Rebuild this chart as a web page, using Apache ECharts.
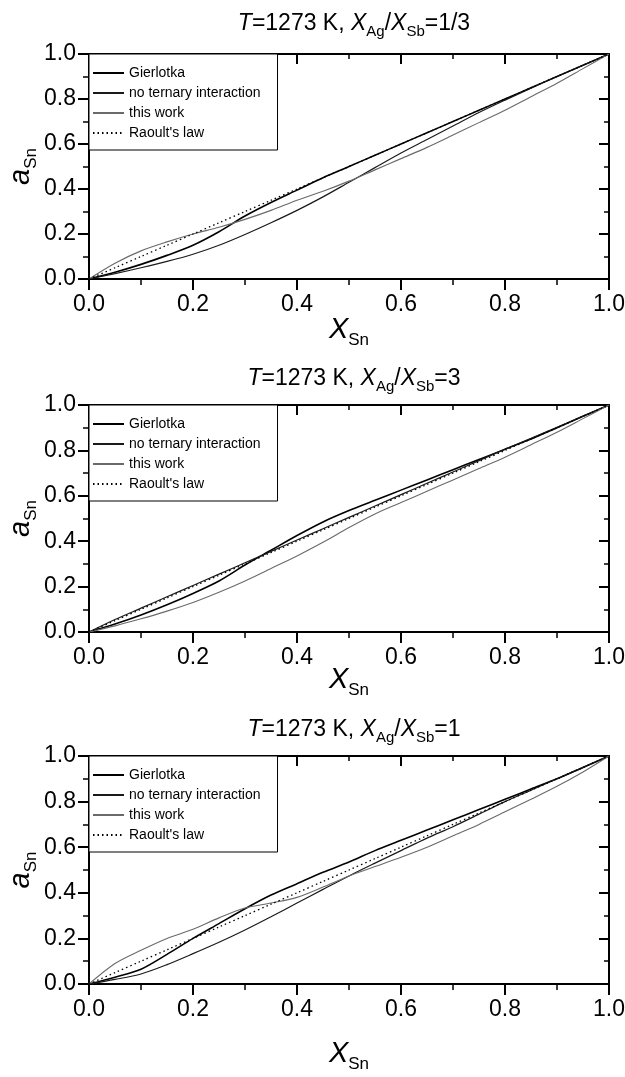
<!DOCTYPE html>
<html>
<head>
<meta charset="utf-8">
<script src="https://cdn.jsdelivr.net/npm/echarts@6/dist/echarts.min.js"></script>
<style>
html,body{margin:0;padding:0;background:#fff;}
#c{width:625px;height:1077px;}
</style>
</head>
<body>
<div id="c"></div>
<script>
// ---- data ----
const xSn = [0, 0.05, 0.1, 0.15, 0.2, 0.25, 0.3, 0.35, 0.4, 0.45, 0.5, 0.55, 0.6, 0.65, 0.7, 0.75, 0.8, 0.85, 0.9, 0.95, 1.0];
const seriesNames = ['Gierlotka', 'no ternary interaction', 'this work', "Raoult's law"];
const ratioLabels = ['1/3', '3', '1'];
const xTicks = ['0.0', '0.2', '0.4', '0.6', '0.8', '1.0'];

// panel 1: X_Ag/X_Sb = 1/3
const p1Gierlotka = [0, 0.03, 0.065, 0.105, 0.15, 0.21, 0.28, 0.34, 0.395, 0.45, 0.5, 0.55, 0.6, 0.65, 0.7, 0.75, 0.8, 0.85, 0.9, 0.95, 1.0];
const p1NoTernary = [0, 0.024, 0.05, 0.078, 0.11, 0.15, 0.198, 0.25, 0.305, 0.365, 0.43, 0.495, 0.56, 0.62, 0.68, 0.74, 0.795, 0.848, 0.9, 0.95, 1.0];
const p1ThisWork  = [0, 0.07, 0.125, 0.165, 0.2, 0.23, 0.265, 0.305, 0.35, 0.39, 0.435, 0.485, 0.535, 0.585, 0.64, 0.695, 0.75, 0.81, 0.87, 0.935, 1.0];
// panel 2: X_Ag/X_Sb = 3
const p2Gierlotka = [0, 0.035, 0.075, 0.12, 0.17, 0.225, 0.295, 0.36, 0.425, 0.485, 0.535, 0.58, 0.625, 0.67, 0.715, 0.76, 0.805, 0.85, 0.9, 0.95, 1.0];
const p2NoTernary = [0, 0.055, 0.105, 0.155, 0.205, 0.255, 0.305, 0.355, 0.405, 0.455, 0.505, 0.555, 0.605, 0.655, 0.705, 0.755, 0.805, 0.853, 0.902, 0.951, 1.0];
const p2ThisWork  = [0, 0.027, 0.058, 0.092, 0.13, 0.175, 0.225, 0.28, 0.335, 0.395, 0.46, 0.52, 0.57, 0.62, 0.67, 0.72, 0.77, 0.825, 0.88, 0.94, 1.0];
// panel 3: X_Ag/X_Sb = 1
const p3Gierlotka = [0, 0.03, 0.065, 0.13, 0.2, 0.265, 0.33, 0.39, 0.44, 0.49, 0.535, 0.585, 0.63, 0.675, 0.72, 0.765, 0.81, 0.855, 0.9, 0.95, 1.0];
const p3NoTernary = [0, 0.02, 0.044, 0.085, 0.133, 0.183, 0.237, 0.295, 0.355, 0.415, 0.474, 0.53, 0.585, 0.64, 0.69, 0.745, 0.8, 0.85, 0.9, 0.95, 1.0];
const p3ThisWork  = [0, 0.09, 0.148, 0.2, 0.24, 0.29, 0.333, 0.355, 0.38, 0.425, 0.474, 0.515, 0.556, 0.6, 0.65, 0.7, 0.755, 0.81, 0.867, 0.93, 1.0];
const raoult = xSn.slice();

const panels = [
  [p1Gierlotka, p1NoTernary, p1ThisWork, raoult],
  [p2Gierlotka, p2NoTernary, p2ThisWork, raoult],
  [p3Gierlotka, p3NoTernary, p3ThisWork, raoult]
];

// ---- layout / style ----
const FONT = '"Liberation Sans", Arial, sans-serif';
const grids = [
  {left: 89, top: 54, width: 520, height: 225, outerBoundsMode: 'none', containLabel: false},
  {left: 89, top: 405, width: 520, height: 227, outerBoundsMode: 'none', containLabel: false},
  {left: 89, top: 756, width: 520, height: 228, outerBoundsMode: 'none', containLabel: false}
];
const titleTops = [3, 358, 709];
const xNameGaps = [31, 28, 50];
const lineStyles = [
  {color: '#000', width: 1.6, type: 'solid'},
  {color: '#1a1a1a', width: 1.2, type: 'solid'},
  {color: '#6a6a6a', width: 1.1, type: 'solid'},
  {color: '#000', width: 1.3, type: [1.5, 3]}
];
const legendTops = [54, 405, 756];

const subRich = {
  x: {fontStyle: 'italic', fontSize: 29, fontFamily: FONT, color: '#000'},
  s: {fontSize: 17, fontFamily: FONT, color: '#000', padding: [22, 0, 0, 0]}
};

const option = {
  backgroundColor: '#fff',
  animation: false,
  title: ratioLabels.map((r, i) => ({
    text: '{i|T}=1273 K, {i|X}{s|Ag}/{i|X}{s|Sb}=' + r,
    left: 349, top: titleTops[i], textAlign: 'center',
    textStyle: {
      fontSize: 23, fontFamily: FONT, color: '#000', fontWeight: 'normal',
      rich: {
        i: {fontStyle: 'italic', fontSize: 23, fontFamily: FONT, color: '#000'},
        s: {fontSize: 15, fontFamily: FONT, color: '#000', padding: [16, 0, 0, 0]}
      }
    }
  })),
  legend: grids.map((g, i) => ({
    orient: 'vertical',
    left: 89, top: legendTops[i],
    data: seriesNames,
    borderColor: '#000', borderWidth: 1,
    padding: [12, 17, 10, 3],
    itemGap: 6, itemWidth: 31, itemHeight: 14,
    backgroundColor: '#fff',
    selectedMode: false,
    itemStyle: {opacity: 0},
    textStyle: {fontSize: 14, fontFamily: FONT, color: '#000'}
  })),
  grid: grids,
  xAxis: [],
  yAxis: [],
  series: []
};

grids.forEach((g, i) => {
  const baseAxis = {
    type: 'value', min: 0, max: 1, interval: 0.2, gridIndex: i,
    axisLine: {show: true, onZero: false, lineStyle: {color: '#000', width: 2}},
    splitLine: {show: false}
  };
  option.xAxis.push(Object.assign({}, baseAxis, {
    position: 'bottom',
    axisTick: {show: true, inside: false, length: 11, lineStyle: {color: '#000', width: 2}},
    minorTick: {show: true, splitNumber: 2, length: 6, lineStyle: {color: '#000', width: 1.5}},
    axisLabel: {fontSize: 23, fontFamily: FONT, color: '#000', margin: 14,
      formatter: v => xTicks[Math.round(v * 5)]},
    name: '{x|X}{s|Sn}', nameLocation: 'middle', nameGap: xNameGaps[i],
    nameMoveOverlap: false,
    nameTextStyle: {rich: subRich}
  }));
  option.xAxis.push(Object.assign({}, baseAxis, {
    position: 'top',
    axisTick: {show: true, inside: true, length: 10, lineStyle: {color: '#000', width: 2}},
    minorTick: {show: true, splitNumber: 2, length: 5, lineStyle: {color: '#000', width: 1.5}},
    axisLabel: {show: false}
  }));
  option.yAxis.push(Object.assign({}, baseAxis, {
    position: 'left',
    axisTick: {show: true, inside: false, length: 11, lineStyle: {color: '#000', width: 2}},
    minorTick: {show: true, splitNumber: 2, length: 6, lineStyle: {color: '#000', width: 1.5}},
    axisLabel: {fontSize: 23, fontFamily: FONT, color: '#000', margin: 13,
      formatter: v => xTicks[Math.round(v * 5)]},
    name: '{x|a}{s|Sn}', nameLocation: 'middle', nameGap: 49, nameRotate: 90,
    nameMoveOverlap: false,
    nameTextStyle: {rich: subRich}
  }));
  option.yAxis.push(Object.assign({}, baseAxis, {
    position: 'right',
    axisTick: {show: true, inside: true, length: 10, lineStyle: {color: '#000', width: 2}},
    minorTick: {show: true, splitNumber: 2, length: 5, lineStyle: {color: '#000', width: 1.5}},
    axisLabel: {show: false}
  }));
  panels[i].forEach((vals, k) => {
    option.series.push({
      name: seriesNames[k], type: 'line',
      xAxisIndex: i * 2, yAxisIndex: i * 2,
      data: xSn.map((x, j) => [x, vals[j]]),
      smooth: 0.3, symbol: 'none',
      lineStyle: lineStyles[k],
      itemStyle: {color: lineStyles[k].color},
      z: 3 + k
    });
  });
});

const chart = echarts.init(document.getElementById('c'), null, {renderer: 'canvas'});
chart.setOption(option);
</script>
</body>
</html>
